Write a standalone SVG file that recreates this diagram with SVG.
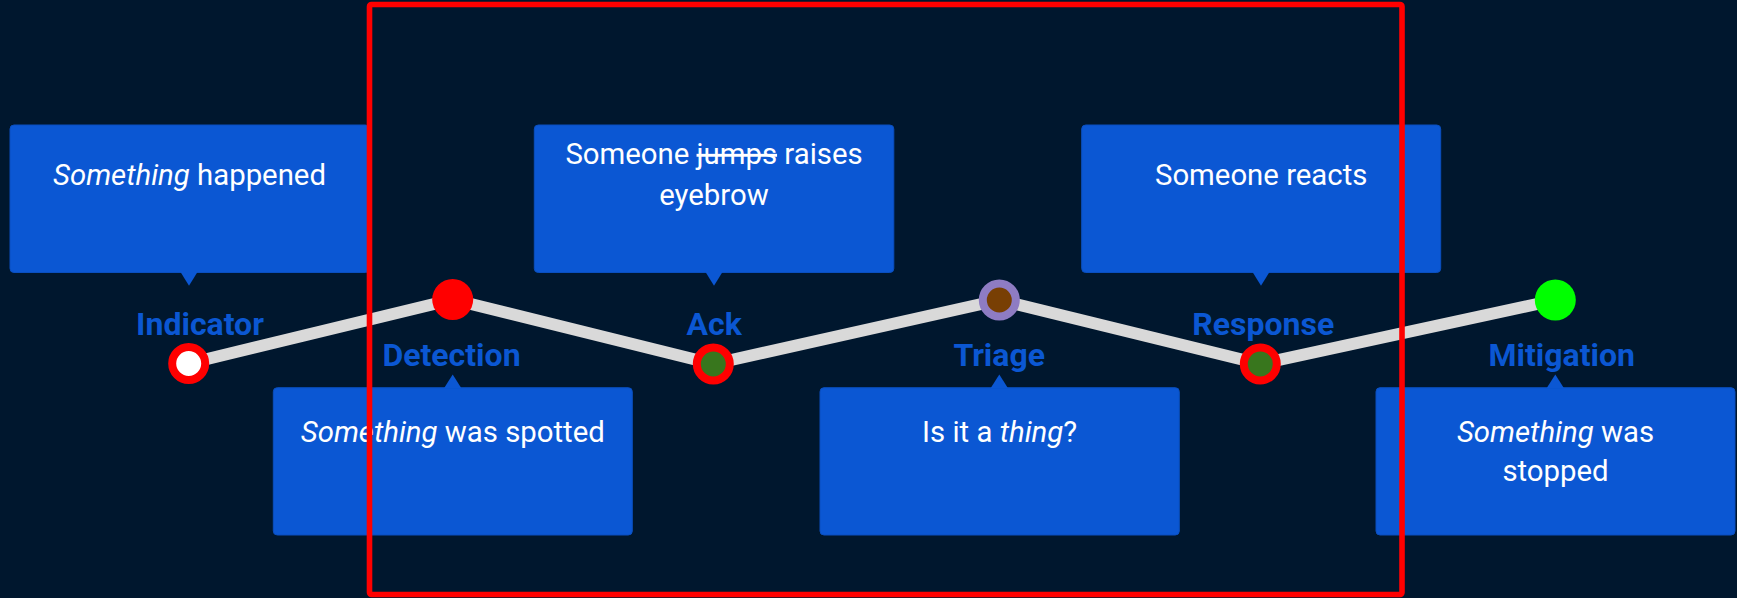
<svg xmlns="http://www.w3.org/2000/svg" width="1737" height="598" viewBox="0 0 1737 598">
  <defs>
    <style>
      .bg { fill: #00172e; }
      .box { fill: #0b57d3; stroke: #0a4fbf; stroke-width: 1; }
      .tip { fill: #0b57d3; }
      .txt { font-family: Roboto, "Liberation Sans", sans-serif; font-size: 29.33px; fill: #ffffff; text-anchor: middle; }
      .lbl { font-family: Roboto, "Liberation Sans", sans-serif; font-size: 32px; font-weight: bold; fill: #0b57d3; text-anchor: middle; }
      .it { font-style: italic; }
      .strike { text-decoration: line-through; }
      .link { fill: none; stroke: #d9d9d9; stroke-width: 12; stroke-linejoin: round; }
      .ring { stroke-width: 8; }
    </style>
  </defs>

  <rect class="bg" x="0" y="0" width="1737" height="598"/>

  <!-- timeline connectors -->
  <g id="connectors">
    <line class="link" x1="188.7" y1="363.5" x2="452.7" y2="299.5"/>
    <line class="link" x1="452.7" y1="299.5" x2="713.3" y2="364"/>
    <line class="link" x1="713.3" y1="364" x2="999.3" y2="300"/>
    <line class="link" x1="999.3" y1="300" x2="1260.3" y2="364"/>
    <line class="link" x1="1260.3" y1="364" x2="1555.3" y2="300"/>
  </g>

  <g id="indicator">
    <rect class="box" x="10" y="125" width="359.5" height="147.5" rx="4"/>
    <polygon class="tip" points="180.5,272 197.5,272 189,285.7"/>
    <text class="txt" x="189.5" y="185.3"><tspan class="it">Something</tspan> happened</text>
    <text class="lbl" x="200" y="335">Indicator</text>
    <circle class="ring" cx="188.7" cy="363.5" r="16.5" fill="#ffffff" stroke="#ff0000"/>
  </g>

  <g id="detection">
    <rect class="box" x="273.3" y="387.7" width="359" height="147.3" rx="4"/>
    <polygon class="tip" points="444,388.2 461.4,388.2 452.7,374.5"/>
    <text class="txt" x="452.8" y="441.7"><tspan class="it">Something</tspan> was spotted</text>
    <text class="lbl" x="451.5" y="366">Detection</text>
    <circle cx="452.7" cy="299.5" r="20.5" fill="#ff0000"/>
  </g>

  <g id="ack">
    <rect class="box" x="534.3" y="125" width="359.5" height="147.5" rx="4"/>
    <polygon class="tip" points="705.5,272 722.5,272 714,285.7"/>
    <text class="txt" x="714" y="164.3">Someone <tspan class="strike">jumps</tspan> raises</text>
    <text class="txt" x="714" y="204.5">eyebrow</text>
    <text class="lbl" x="714.2" y="335">Ack</text>
    <circle class="ring" cx="713.3" cy="364" r="16.5" fill="#38761d" stroke="#ff0000"/>
  </g>

  <g id="triage">
    <rect class="box" x="820" y="387.7" width="359.3" height="147.3" rx="4"/>
    <polygon class="tip" points="990.6,388.2 1008,388.2 999.3,374.5"/>
    <text class="txt" x="999.6" y="441.7">Is it a <tspan class="it">thing</tspan>?</text>
    <text class="lbl" x="999.2" y="366">Triage</text>
    <circle class="ring" cx="999.3" cy="300" r="16.5" fill="#783f04" stroke="#8e7cc3"/>
  </g>

  <g id="response">
    <rect class="box" x="1081.7" y="125" width="359" height="147.5" rx="4"/>
    <polygon class="tip" points="1252.5,272 1269.5,272 1261,285.7"/>
    <text class="txt" x="1261.2" y="185.3">Someone reacts</text>
    <text class="lbl" x="1263.3" y="335">Response</text>
    <circle class="ring" cx="1260.3" cy="364" r="16.5" fill="#38761d" stroke="#ff0000"/>
  </g>

  <g id="mitigation">
    <rect class="box" x="1376" y="387.7" width="359" height="147.3" rx="4"/>
    <polygon class="tip" points="1546.6,388.2 1564,388.2 1555.3,374.5"/>
    <text class="txt" x="1555.5" y="441.7"><tspan class="it">Something</tspan> was</text>
    <text class="txt" x="1555.5" y="481">stopped</text>
    <text class="lbl" x="1561.7" y="366">Mitigation</text>
    <circle cx="1555.3" cy="300" r="20.5" fill="#00ff00"/>
  </g>

  <!-- highlight frame -->
  <rect x="369.5" y="4.5" width="1032.5" height="590" rx="2" fill="none" stroke="#ff0000" stroke-width="5.6"/>
</svg>
